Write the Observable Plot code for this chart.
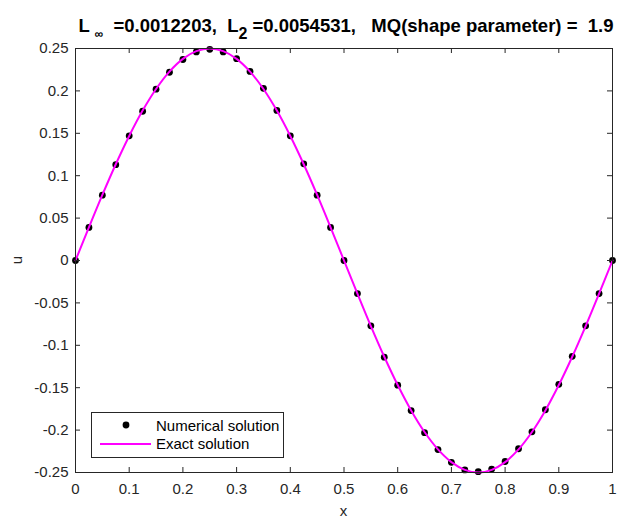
<!DOCTYPE html>
<html><head><meta charset="utf-8">
<script src="https://cdn.jsdelivr.net/npm/d3@7"></script>
<script src="https://cdn.jsdelivr.net/npm/@observablehq/plot@0.6"></script>
<style>body{margin:0;background:#fff} #chart{width:619px;height:518px}</style>
</head><body><div id="chart"></div>
<script>
// Collocation nodes (x)
const xNodes = [0,0.025,0.05,0.075,0.1,0.125,0.15,0.175,0.2,0.225,0.25,0.275,0.3,0.325,0.35,0.375,0.4,0.425,0.45,0.475,0.5,
  0.525,0.55,0.575,0.6,0.625,0.65,0.675,0.7,0.725,0.75,0.775,0.8,0.825,0.85,0.875,0.9,0.925,0.95,0.975,1];
// Numerical solution (black dots)
const uNumerical = [0,0.039,0.077,0.113,0.147,0.176,0.202,0.222,0.237,0.246,0.249,0.246,0.238,0.223,0.203,0.177,0.147,0.114,0.077,0.039,0,
  -0.039,-0.077,-0.114,-0.147,-0.177,-0.203,-0.223,-0.238,-0.247,-0.249,-0.246,-0.237,-0.222,-0.202,-0.176,-0.146,-0.113,-0.077,-0.039,0];
// Exact solution (magenta line), read at the same nodes
const uExact = [0,0.0391,0.0773,0.1135,0.1469,0.1768,0.2023,0.2228,0.2378,0.2469,0.25,0.2469,0.2378,0.2228,0.2023,0.1768,0.1469,0.1135,0.0773,0.0391,0,
  -0.0391,-0.0773,-0.1135,-0.1469,-0.1768,-0.2023,-0.2228,-0.2378,-0.2469,-0.25,-0.2469,-0.2378,-0.2228,-0.2023,-0.1768,-0.1469,-0.1135,-0.0773,-0.0391,0];
const xTicks = [0,0.1,0.2,0.3,0.4,0.5,0.6,0.7,0.8,0.9,1];
const yTicks = [-0.25,-0.2,-0.15,-0.1,-0.05,0,0.05,0.1,0.15,0.2,0.25];
const seriesNames = ["Numerical solution","Exact solution"];
const xLabel = "x", yLabel = "u";
const errLinf = "0.0012203", errL2 = "0.0054531", shapeParam = "1.9";

const numData = xNodes.map((x,i)=>({x, u:uNumerical[i]}));
const exData = xNodes.map((x,i)=>({x, u:uExact[i]}));

const W=619, H=518, mT=48, mL=75, mR=7, mB=46;
const iw = W-mL-mR, ih = H-mT-mB, tk = 5;
const axisColor = "#262626";
const fmt = d => String(+d.toFixed(2));
const font = "'Liberation Sans', Arial, Helvetica, sans-serif";

const svg = Plot.plot({
  width:W, height:H, marginTop:mT, marginLeft:mL, marginRight:mR, marginBottom:mB,
  x:{domain:[0,1]}, y:{domain:[-0.25,0.25]},
  style:{fontFamily:font, fontSize:"15px", color:axisColor, background:"#fff"},
  marks:[
    Plot.dot(numData,{x:"x",y:"u",r:3.4,fill:"black",stroke:"none"}),
    Plot.line(exData,{x:"x",y:"u",stroke:"#ff00ff",strokeWidth:2,curve:"catmull-rom"}),
    Plot.tickX(xTicks,{x:d=>d,insetTop:ih-tk,stroke:axisColor}),
    Plot.tickX(xTicks,{x:d=>d,insetBottom:ih-tk,stroke:axisColor}),
    Plot.tickY(yTicks,{y:d=>d,insetRight:iw-tk,stroke:axisColor}),
    Plot.tickY(yTicks,{y:d=>d,insetLeft:iw-tk,stroke:axisColor}),
    Plot.frame({stroke:axisColor}),
    Plot.axisX({ticks:xTicks,tickSize:0,tickPadding:11,tickFormat:fmt,label:null,fontSize:15}),
    Plot.axisY({ticks:yTicks,tickSize:0,tickPadding:7,tickFormat:fmt,label:null,fontSize:15})
  ]
});
document.getElementById("chart").appendChild(svg);

const s = d3.select(svg);
// axis labels
s.append("text").attr("x",mL+iw/2).attr("y",516).attr("text-anchor","middle")
  .attr("font-family",font).attr("font-size",15).attr("fill",axisColor).text(xLabel);
s.append("text").attr("transform",`translate(21.5,${mT+ih/2}) rotate(-90)`).attr("text-anchor","middle")
  .attr("font-family",font).attr("font-size",15).attr("fill",axisColor).text(yLabel);

// title
const t = s.append("text").attr("x",346).attr("y",32).attr("text-anchor","middle")
  .attr("font-family",font).attr("font-size",18.5).attr("font-weight","bold").attr("fill","#000");
t.append("tspan").text("L ");
t.append("tspan").attr("font-size",12).attr("dy",6).text("\u221E");
t.append("tspan").attr("dy",-6).text("  =" + errLinf + ",  L");
t.append("tspan").attr("font-size",16).attr("dy",7).text("2");
t.append("tspan").attr("dy",-7).text(" =" + errL2 + ",   MQ(shape parameter) =  " + shapeParam);

// legend
const lg = s.append("g").attr("font-family",font).attr("font-size",15).attr("fill","#000").attr("text-anchor","start");
lg.append("rect").attr("x",91.5).attr("y",412.5).attr("width",192).attr("height",45)
  .attr("fill","#fff").attr("stroke",axisColor);
lg.append("circle").attr("cx",126).attr("cy",425).attr("r",3.4).attr("fill","black");
lg.append("line").attr("x1",100).attr("x2",151).attr("y1",444).attr("y2",444)
  .attr("stroke","#ff00ff").attr("stroke-width",2);
lg.append("text").attr("x",156).attr("y",431).text(seriesNames[0]);
lg.append("text").attr("x",156).attr("y",449).text(seriesNames[1]);
</script>
</body></html>
